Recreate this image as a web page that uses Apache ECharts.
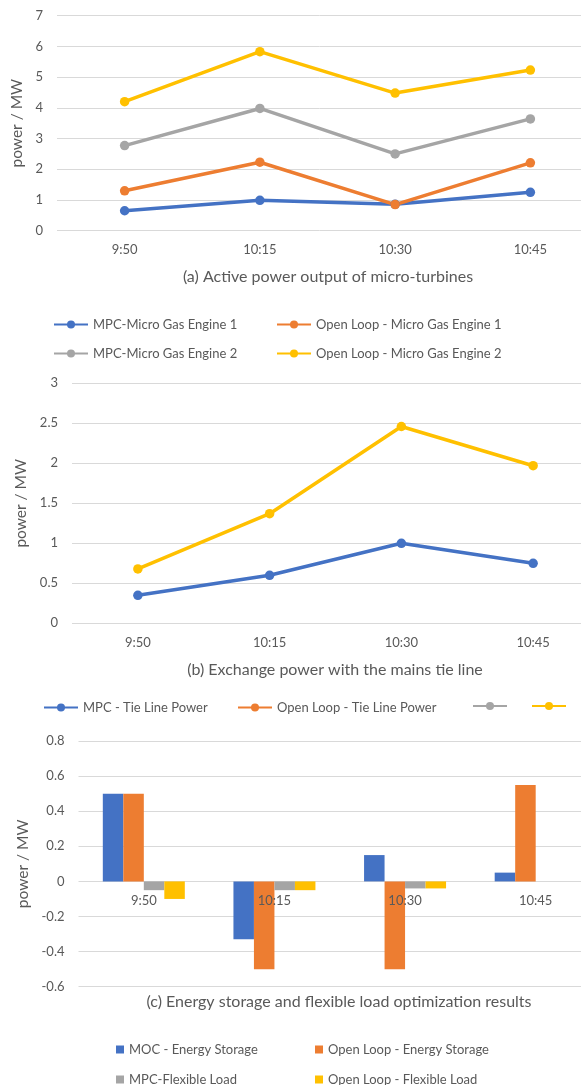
<!DOCTYPE html>
<html>
<head>
<meta charset="utf-8">
<script src="https://cdn.jsdelivr.net/npm/echarts@6/dist/echarts.min.js"></script>
<style>
  html, body { margin: 0; padding: 0; background: #fff; }
  #main { width: 581px; height: 1085px; }
</style>
</head>
<body>
<div id="main"></div>
<script>
// time points shared by all three panels
var categories = ['9:50', '10:15', '10:30', '10:45'];

// (a) micro-turbine output, MW
var mpcEngine1 = [0.65, 0.99, 0.86, 1.25];
var openEngine1 = [1.30, 2.23, 0.85, 2.21];
var mpcEngine2 = [2.77, 3.98, 2.50, 3.64];
var openEngine2 = [4.20, 5.83, 4.48, 5.23];

// (b) tie line exchange power, MW
var mpcTieLine = [0.35, 0.60, 1.00, 0.75];
var openTieLine = [0.68, 1.37, 2.46, 1.97];

// (c) storage / flexible load, MW
var mpcStorage = [0.50, -0.33, 0.15, 0.05];
var openStorage = [0.50, -0.50, -0.50, 0.55];
var mpcFlex = [-0.05, -0.05, -0.04, 0];
var openFlex = [-0.10, -0.05, -0.04, 0];

var BLUE = '#4472C4', ORANGE = '#ED7D31', GRAY = '#A5A5A5', YELLOW = '#FFC000';
var FONT = 'Lato';
var TXT = '#595959';

var myChart = echarts.init(document.getElementById('main'));

function xAx(gridIndex, offset) {
    return {
        type: 'category', gridIndex: gridIndex, data: categories,
        position: 'bottom', offset: offset, z: 5,
        axisLine: { show: false, onZero: false },
        axisTick: { show: false },
        axisLabel: { color: TXT, fontFamily: FONT, fontSize: 13, margin: 13 }
    };
}

function yAx(gridIndex, min, max, interval, gap) {
    return {
        type: 'value', gridIndex: gridIndex, min: min, max: max, interval: interval,
        name: 'power / MW', nameLocation: 'middle', nameGap: gap,
        nameTextStyle: { color: TXT, fontFamily: FONT, fontSize: 15.5 },
        axisLine: { show: false }, axisTick: { show: false },
        axisLabel: { color: TXT, fontFamily: FONT, fontSize: 13, margin: 14 },
        splitLine: { lineStyle: { color: '#d9d9d9', width: 1 } }
    };
}

function lineSeries(name, data, color, idx) {
    return {
        name: name, type: 'line', data: data, xAxisIndex: idx, yAxisIndex: idx,
        symbol: 'circle', symbolSize: 9.5,
        itemStyle: { color: color }, lineStyle: { color: color, width: 3.5 }
    };
}

function barSeries(name, data, color) {
    return {
        name: name, type: 'bar', data: data, xAxisIndex: 2, yAxisIndex: 2,
        barWidth: 20.5, barGap: '0%',
        itemStyle: { color: color }
    };
}

// one legend per entry so every entry sits where it does in the figure
function leg(name, left, top, bar) {
    return {
        data: [name], left: left, top: top, padding: 0,
        itemWidth: bar ? 8 : 34, itemHeight: bar ? 8 : 10,
        icon: bar ? 'rect' : undefined,
        formatter: function (n) { return n.charAt(0) === '_' ? '' : n; },
        textStyle: { color: TXT, fontFamily: FONT, fontSize: 13 }
    };
}

var option = {
    animation: false,
    backgroundColor: '#fff',
    grid: [
        { left: 57, top: 15.7, width: 541, height: 215, outerBoundsMode: 'none' },
        { left: 72, top: 383.3, width: 527, height: 240, outerBoundsMode: 'none' },
        { left: 78.5, top: 741, width: 522.5, height: 245.7, outerBoundsMode: 'none' }
    ],
    // panel (c) keeps its time labels next to the zero line, as in the figure
    xAxis: [xAx(0, 0), xAx(1, 0), xAx(2, -105)],
    yAxis: [yAx(0, 0, 7, 1, 23), yAx(1, 0, 3, 0.5, 40), yAx(2, -0.6, 0.8, 0.2, 45)],
    legend: [
        leg('MPC-Micro Gas Engine 1', 53, 318),
        leg('Open Loop - Micro Gas Engine 1', 276, 318),
        leg('MPC-Micro Gas Engine 2', 53, 347),
        leg('Open Loop - Micro Gas Engine 2', 276, 347),
        leg('MPC - Tie Line Power', 43, 701),
        leg('Open Loop - Tie Line Power', 237, 701),
        leg('_gray', 472, 701),
        leg('_yellow', 531, 701),
        leg('MOC - Energy Storage', 116, 1043, true),
        leg('Open Loop - Energy Storage', 315, 1043, true),
        leg('MPC-Flexible Load', 116, 1073, true),
        leg('Open Loop - Flexible Load', 315, 1073, true)
    ],
    graphic: [
        { type: 'text', x: 328, y: 277, style: { text: '(a) Active power output of micro-turbines', fill: TXT, font: '16px ' + FONT, textAlign: 'center', textVerticalAlign: 'middle' } },
        { type: 'text', x: 335, y: 670, style: { text: '(b) Exchange power with the mains tie line', fill: TXT, font: '16px ' + FONT, textAlign: 'center', textVerticalAlign: 'middle' } },
        { type: 'text', x: 339, y: 1002, style: { text: '(c) Energy storage and flexible load optimization results', fill: TXT, font: '16px ' + FONT, textAlign: 'center', textVerticalAlign: 'middle' } }
    ],
    series: [
        lineSeries('MPC-Micro Gas Engine 1', mpcEngine1, BLUE, 0),
        lineSeries('Open Loop - Micro Gas Engine 1', openEngine1, ORANGE, 0),
        lineSeries('MPC-Micro Gas Engine 2', mpcEngine2, GRAY, 0),
        lineSeries('Open Loop - Micro Gas Engine 2', openEngine2, YELLOW, 0),
        lineSeries('MPC - Tie Line Power', mpcTieLine, BLUE, 1),
        lineSeries('Open Loop - Tie Line Power', [], ORANGE, 1),
        lineSeries('_gray', [], GRAY, 1),
        lineSeries('_yellow', openTieLine, YELLOW, 1),
        barSeries('MOC - Energy Storage', mpcStorage, BLUE),
        barSeries('Open Loop - Energy Storage', openStorage, ORANGE),
        barSeries('MPC-Flexible Load', mpcFlex, GRAY),
        barSeries('Open Loop - Flexible Load', openFlex, YELLOW)
    ]
};

myChart.setOption(option);
</script>
</body>
</html>
